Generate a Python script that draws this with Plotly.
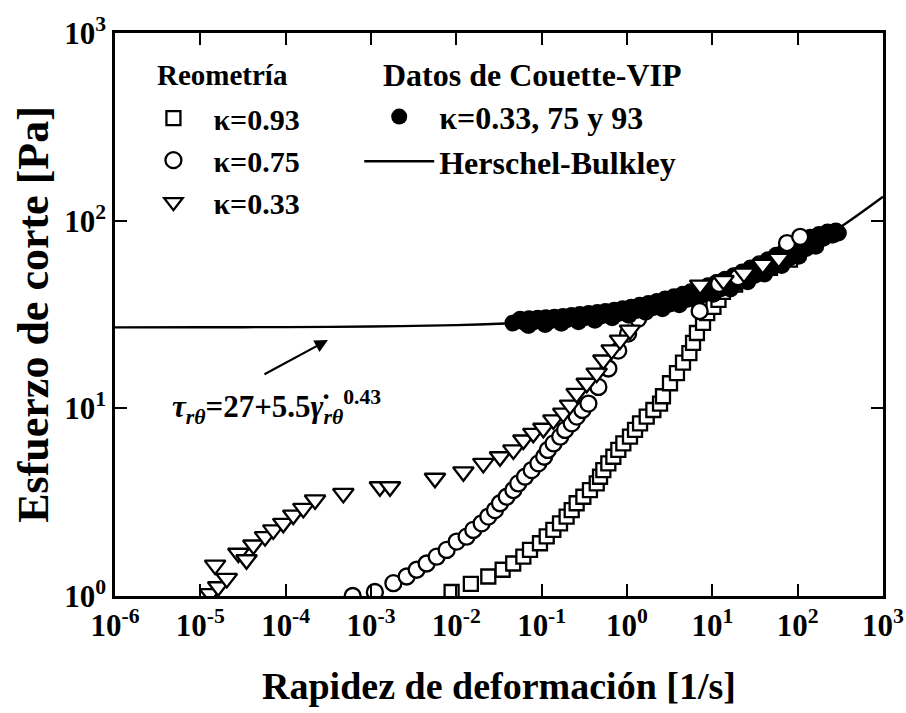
import plotly.graph_objects as go

# ---- data ----
sq_x = [0.0088, 0.0148, 0.0237, 0.0349, 0.0464, 0.061, 0.073, 0.0955, 0.1146, 0.137, 0.164, 0.196,
        0.225, 0.257, 0.308, 0.368, 0.442, 0.483, 0.528, 0.604, 0.692, 0.791, 0.906, 1.084, 1.242,
        1.422, 1.702, 2.037, 2.438, 2.64, 3.19, 3.85, 4.53, 5.38, 5.94, 6.6, 7.78, 8.71, 10.3, 11.8,
        13.3, 18.5, 27.5, 47.4, 81.3]
sq_y = [1.05, 1.16, 1.27, 1.38, 1.49, 1.62, 1.76, 1.91, 2.08, 2.25, 2.44, 2.65, 2.87, 3.12, 3.38,
        3.67, 3.98, 4.32, 4.69, 5.09, 5.52, 6.0, 6.5, 7.06, 7.67, 8.32, 9.03, 9.8, 10.6, 11.6, 13.6,
        15.4, 17.5, 19.7, 22.3, 25.2, 28.5, 32.2, 34.7, 37.8, 41.7, 45.7, 51.3, 56.0, 62.0]

ci_x = [0.00061, 0.00111, 0.00183, 0.00262, 0.00343, 0.00449, 0.00589, 0.0077, 0.0101, 0.0132,
        0.0158, 0.0198, 0.0237, 0.0284, 0.0325, 0.0389, 0.0466, 0.0532, 0.0638, 0.0764, 0.0915,
        0.107, 0.118, 0.138, 0.165, 0.188, 0.225, 0.258, 0.3, 0.353, 0.462, 0.605, 0.789, 1.03, 1.35]
ci_y = [1.0, 1.05, 1.17, 1.27, 1.38, 1.49, 1.62, 1.76, 1.95, 2.07, 2.25, 2.44, 2.65, 2.87, 3.12,
        3.38, 3.67, 3.98, 4.32, 4.69, 5.09, 5.52, 6.0, 6.5, 7.06, 7.67, 8.32, 9.03, 9.8, 10.6,
        13.0, 16.3, 20.3, 25.0, 30.0]
ci_hx = [7.1, 12.0, 20.0, 75.0, 107.0]
ci_hy = [33.0, 46.0, 50.0, 76.0, 82.0]

tr_x = [1.30e-5, 1.62e-5, 2.04e-5, 1.49e-5, 2.79e-5, 3.48e-5, 4.18e-5, 5.73e-5, 7.16e-5, 9.37e-5,
        1.227e-4, 1.61e-4, 2.21e-4, 4.74e-4, 1.27e-3, 1.67e-3, 5.62e-3, 1.21e-2, 2.07e-2, 3.25e-2,
        4.66e-2, 6.1e-2, 7.98e-2, 0.1047, 0.137, 0.179, 0.215, 0.257, 0.337, 0.441, 0.528, 0.661,
        0.828, 1.084]
tr_y = [1.03, 1.12, 1.24, 1.46, 1.69, 1.56, 1.87, 2.07, 2.25, 2.44, 2.70, 2.93, 3.25, 3.52, 3.82,
        3.82, 4.24, 4.59, 5.09, 5.52, 6.0, 6.78, 7.36, 7.83, 8.67, 9.42, 10.4, 12.0, 13.6, 15.4,
        18.1, 20.5, 23.1, 26.1]
tr_hx = [7.2, 13.5, 23.5, 39.0, 60.0]
tr_hy = [45.4, 48.0, 52.5, 58.5, 63.0]

dot_x = [0.046, 0.063, 0.08, 0.1, 0.126, 0.158, 0.2, 0.25, 0.32, 0.4, 0.5, 0.63, 0.79, 1.0, 1.26,
         1.58, 2.0, 2.5, 3.2, 4.0, 5.0, 6.3, 7.9, 10, 12.6, 15.8, 20, 25, 32, 40, 50, 63, 79, 100,
         126, 158, 200, 250, 300,
         0.056, 0.071, 0.09, 0.112, 0.141, 0.178, 0.224, 0.28, 0.355, 0.45, 0.56, 0.71, 0.89, 1.12,
         1.41, 1.78, 2.24, 2.8, 3.55, 4.5, 5.6, 7.1, 8.9, 11.2, 14.1, 17.8, 22.4, 28, 35.5, 45, 56,
         71, 89, 112, 141, 178, 224, 280,
         0.07, 0.11, 0.17, 0.27, 0.42, 0.67, 1.05, 1.65, 2.6, 4.1, 6.5, 10.3, 16.3, 26, 41, 65,
         103, 163, 260]
dot_y = [28.46, 28.68, 28.85, 29.04, 29.26, 29.49, 29.75, 30.04, 30.35, 30.7, 31.09, 31.51, 31.98,
         32.5, 33.07, 33.7, 34.4, 35.17, 36.02, 36.96, 38.0, 39.14, 40.41, 41.81, 43.35, 45.05,
         46.92, 49.0, 51.29, 53.81, 56.6, 59.69, 63.09, 66.84, 70.99, 75.57, 80.62, 84.0, 86.0,
         29.8, 30.0, 30.2, 30.4, 30.6, 30.9, 31.2, 31.6, 32.0, 32.4, 32.8, 33.3, 33.9, 34.6, 35.4,
         36.2, 37.1, 38.2, 39.3, 40.5, 41.8, 43.3, 45.0, 46.8, 48.7, 50.9, 53.3, 55.9, 58.9, 62.0,
         65.4, 69.3, 73.5, 77.8, 81.5, 84.5, 87.0, 88.0,
         27.6, 28.0, 28.4, 28.9, 29.5, 30.4, 31.3, 32.5, 33.9, 35.6, 37.7, 40.5, 43.3, 47.3, 52.0,
         57.7, 64.6, 73.1, 84.0]

hb_x = [1e-6, 1e-5, 1e-4, 1e-3, 1e-2, 3.16e-2, 1e-1, 0.316, 1, 3.16, 10, 31.6, 100, 316, 1000]
hb_y = [27.01, 27.04, 27.10, 27.28, 27.76, 28.25, 29.04, 30.35, 32.5, 36.0, 41.8, 51.3, 66.8, 92.4, 134.2]

x_tickvals = [1e-6, 1e-5, 1e-4, 1e-3, 1e-2, 1e-1, 1, 10, 100, 1000]
x_ticktext = ["10<sup>-6</sup>", "10<sup>-5</sup>", "10<sup>-4</sup>", "10<sup>-3</sup>",
              "10<sup>-2</sup>", "10<sup>-1</sup>", "10<sup>0</sup>", "10<sup>1</sup>",
              "10<sup>2</sup>", "10<sup>3</sup>"]
y_tickvals = [1, 10, 100, 1000]
y_ticktext = ["10<sup>0</sup>", "10<sup>1</sup>", "10<sup>2</sup>", "10<sup>3</sup>"]

FONT = "Liberation Serif"

fig = go.Figure()
open_line = dict(color="black", width=2.3)
fig.add_trace(go.Scatter(x=sq_x, y=sq_y, mode="markers", name="κ=0.93", legend="legend",
                         legendgroup="a",
                         marker=dict(symbol="square", size=14, color="white", line=open_line)))
fig.add_trace(go.Scatter(x=ci_x, y=ci_y, mode="markers", name="κ=0.75", legend="legend",
                         legendgroup="b",
                         marker=dict(symbol="circle", size=16, color="white", line=open_line)))
fig.add_trace(go.Scatter(x=tr_x, y=tr_y, mode="markers", name="κ=0.33", legend="legend",
                         legendgroup="c",
                         marker=dict(symbol="triangle-down", size=18, color="white", line=open_line)))
fig.add_trace(go.Scatter(x=dot_x, y=dot_y, mode="markers", name="κ=0.33, 75 y 93", legend="legend2",
                         legendgroup="d",
                         marker=dict(symbol="circle", size=17, color="black")))
fig.add_trace(go.Scatter(x=hb_x, y=hb_y, mode="lines", name="Herschel-Bulkley", legend="legend2",
                         legendgroup="e", line=dict(color="black", width=2.4, shape="spline")))
fig.add_trace(go.Scatter(x=ci_hx, y=ci_hy, mode="markers", showlegend=False,
                         marker=dict(symbol="circle", size=16, color="white", line=open_line)))
fig.add_trace(go.Scatter(x=tr_hx, y=tr_hy, mode="markers", showlegend=False,
                         marker=dict(symbol="triangle-down", size=18, color="white", line=open_line)))

axis_common = dict(type="log", showline=True, linecolor="black", linewidth=2.5, mirror="ticks",
                   ticks="inside", ticklen=12, tickwidth=2.2, tickcolor="black", showgrid=False,
                   zeroline=False, tickmode="array",
                   tickfont=dict(family=FONT, size=31, color="black", weight="bold"))

fig.update_xaxes(**axis_common, range=[-6, 3], tickvals=x_tickvals, ticktext=x_ticktext,
                 title=dict(text="Rapidez de deformación [1/s]", standoff=31,
                            font=dict(family=FONT, size=38, color="black", weight="bold")))
fig.update_yaxes(**axis_common, range=[0, 3], tickvals=y_tickvals, ticktext=y_ticktext,
                 title=dict(text="Esfuerzo de corte [Pa]", standoff=2,
                            font=dict(family=FONT, size=44, color="black", weight="bold")))

legend_common = dict(bgcolor="rgba(0,0,0,0)", borderwidth=0, itemwidth=70, tracegroupgap=0,
                     traceorder="grouped", xanchor="left", yanchor="top", itemsizing="trace")
fig.update_layout(
    template="none",
    legend=dict(**legend_common, x=0.024, y=0.895,
                font=dict(family=FONT, size=30, color="black", weight="bold")),
    legend2=dict(**legend_common, x=0.318, y=0.9,
                 font=dict(family=FONT, size=32, color="black", weight="bold")),
    width=906, height=713,
    margin=dict(l=115, r=23, t=33, b=117),
    paper_bgcolor="white", plot_bgcolor="white",
    font=dict(family=FONT, color="black"),
)

fig.add_annotation(text="<b>Reometría</b>", xref="paper", yref="paper", x=0.052, y=0.925,
                   xanchor="left", yanchor="middle", showarrow=False,
                   font=dict(family=FONT, size=29, color="black"))
fig.add_annotation(text="<b>Datos de Couette-VIP</b>", xref="paper", yref="paper", x=0.347, y=0.925,
                   xanchor="left", yanchor="middle", showarrow=False,
                   font=dict(family=FONT, size=32, color="black"))
fig.add_annotation(text="<b><i>τ</i><sub><i>rθ</i></sub>=27+5.5<i>γ̇</i><sub><i>rθ</i></sub><sup>0.43</sup></b>",
                   xref="paper", yref="paper", x=0.072, y=0.335, xanchor="left", yanchor="middle",
                   showarrow=False, font=dict(family=FONT, size=31, color="black"))
fig.add_annotation(x=-3.504, y=1.364, xref="x", yref="y", text="", showarrow=True,
                   arrowhead=2, arrowsize=1.2, arrowwidth=2.2, arrowcolor="black",
                   ax=-65, ay=35, axref="pixel", ayref="pixel")

fig.write_html("out.html")
